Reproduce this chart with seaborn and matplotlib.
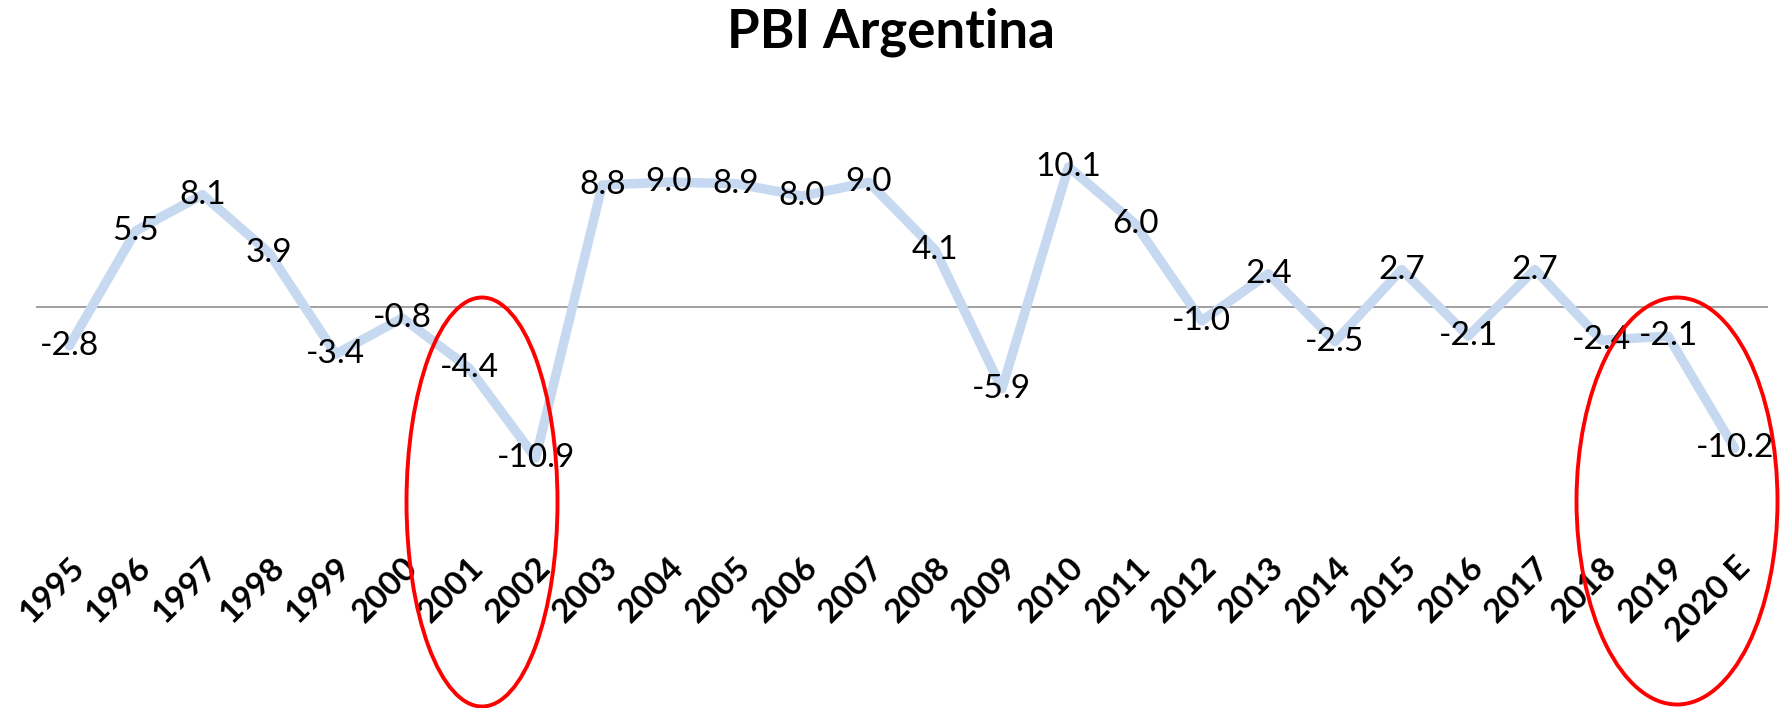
import matplotlib
matplotlib.use("Agg")
import matplotlib.pyplot as plt
import seaborn as sns
from matplotlib.patches import Ellipse

# PBI Argentina, variacion anual (%)
years = ["1995", "1996", "1997", "1998", "1999", "2000", "2001", "2002", "2003",
         "2004", "2005", "2006", "2007", "2008", "2009", "2010", "2011", "2012",
         "2013", "2014", "2015", "2016", "2017", "2018", "2019", "2020 E"]
pbi = [-2.8, 5.5, 8.1, 3.9, -3.4, -0.8, -4.4, -10.9, 8.8, 9.0, 8.9, 8.0, 9.0,
       4.1, -5.9, 10.1, 6.0, -1.0, 2.4, -2.5, 2.7, -2.1, 2.7, -2.4, -2.1, -10.2]

sns.set_style("white")
plt.rcParams['font.family'] = ['Lato', 'DejaVu Sans']

fig = plt.figure(figsize=(17.81, 7.08), dpi=100)
ax = fig.add_axes([0.0202, 0.2726, 0.9725, 0.5876])

pos = list(range(len(years)))
ax.axhline(0, color="#868686", linewidth=1.1, zorder=1)
sns.lineplot(x=pos, y=pbi, ax=ax, color="#c6d9f0", linewidth=6.8, zorder=2)

for x0, y0 in zip(pos, pbi):
    ax.text(x0, y0, f"{y0:.1f}", ha="center", va="center", fontsize=24, color="black", zorder=3)

ax.set_xlim(-0.5, len(years) - 0.5)
ax.set_ylim(-15, 15)
ax.set_yticks([])
ax.set_xticks(pos)
ax.set_xticklabels(years, rotation=45, ha="right", va="top", rotation_mode="anchor",
                   fontsize=24, fontweight="bold", color="black")
ax.tick_params(axis="x", length=0, pad=27)
for s in ax.spines.values():
    s.set_visible(False)

fig.text(0.5, 1 - 32 / 708, "PBI Argentina", ha="center", va="center",
         fontsize=38, fontweight="bold", color="black")

# red circles, drawn in pixel space over the whole figure
over = fig.add_axes([0, 0, 1, 1], facecolor="none")
over.set_xlim(0, 1781)
over.set_ylim(708, 0)
over.axis("off")
over.add_patch(Ellipse((482, 502), 151, 409, fill=False, edgecolor="red", linewidth=2.8))
over.add_patch(Ellipse((1677, 501), 201, 407, fill=False, edgecolor="red", linewidth=2.8))

fig.savefig("out.png", dpi=100)
plt.close()
